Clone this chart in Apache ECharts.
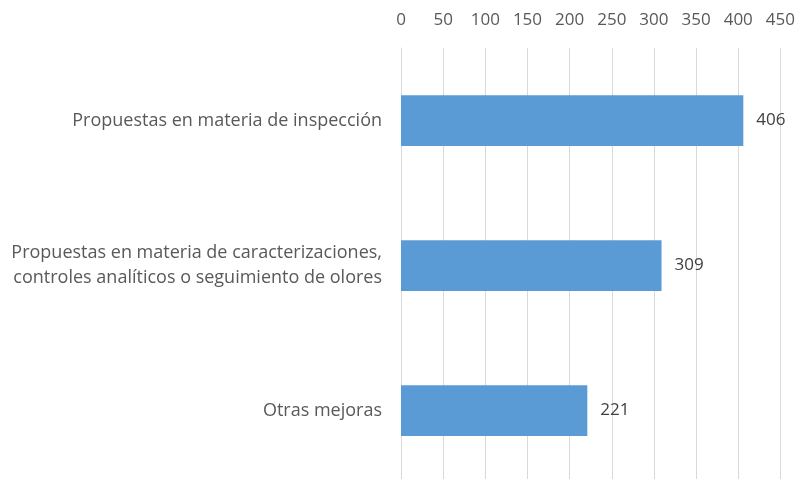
<!DOCTYPE html>
<html>
<head>
    <meta charset="utf-8"/>
    <title>Propuestas</title>
    <script src="https://cdn.jsdelivr.net/npm/echarts@6/dist/echarts.min.js"></script>
    <style>
        html, body { margin: 0; padding: 0; background: #fff; overflow: hidden; }
        /* algo más alto que la ventana: la última banda queda cortada como en el original */
        #chart { width: 798px; height: 484px; }
    </style>
</head>
<body>
<div id="chart"></div>
<script>
    // datos
    var categories = [
        'Propuestas en materia de inspección',
        'Propuestas en materia de caracterizaciones,\ncontroles analíticos o seguimiento de olores',
        'Otras mejoras'
    ];
    var values = [406, 309, 221];

    var myChart = echarts.init(document.getElementById('chart'));
    var font = '"Open Sans", Lato, sans-serif';
    var option = {
        textStyle: { fontFamily: font },
        grid: { left: 401, right: 17, top: 48, height: 435 },
        xAxis: {
            type: 'value',
            position: 'top',
            min: 0,
            max: 450,
            interval: 50,
            axisLine: { show: false },
            axisTick: { show: false },
            axisLabel: { color: '#595959', fontSize: 17, fontFamily: font, margin: 19 },
            splitLine: { lineStyle: { color: '#d9d9d9', width: 1 } }
        },
        yAxis: {
            type: 'category',
            inverse: true,
            data: categories,
            axisLine: { lineStyle: { color: '#d9d9d9' } },
            axisTick: { show: false },
            axisLabel: { color: '#595959', fontSize: 18, fontFamily: font, margin: 19, lineHeight: 25 }
        },
        series: [{
            type: 'bar',
            data: values,
            barWidth: '35%',
            itemStyle: { color: '#5b9bd5' },
            label: {
                show: true,
                position: 'right',
                distance: 13,
                color: '#404040',
                fontSize: 17,
                fontFamily: font
            }
        }]
    };
    myChart.setOption(option);
</script>
</body>
</html>
